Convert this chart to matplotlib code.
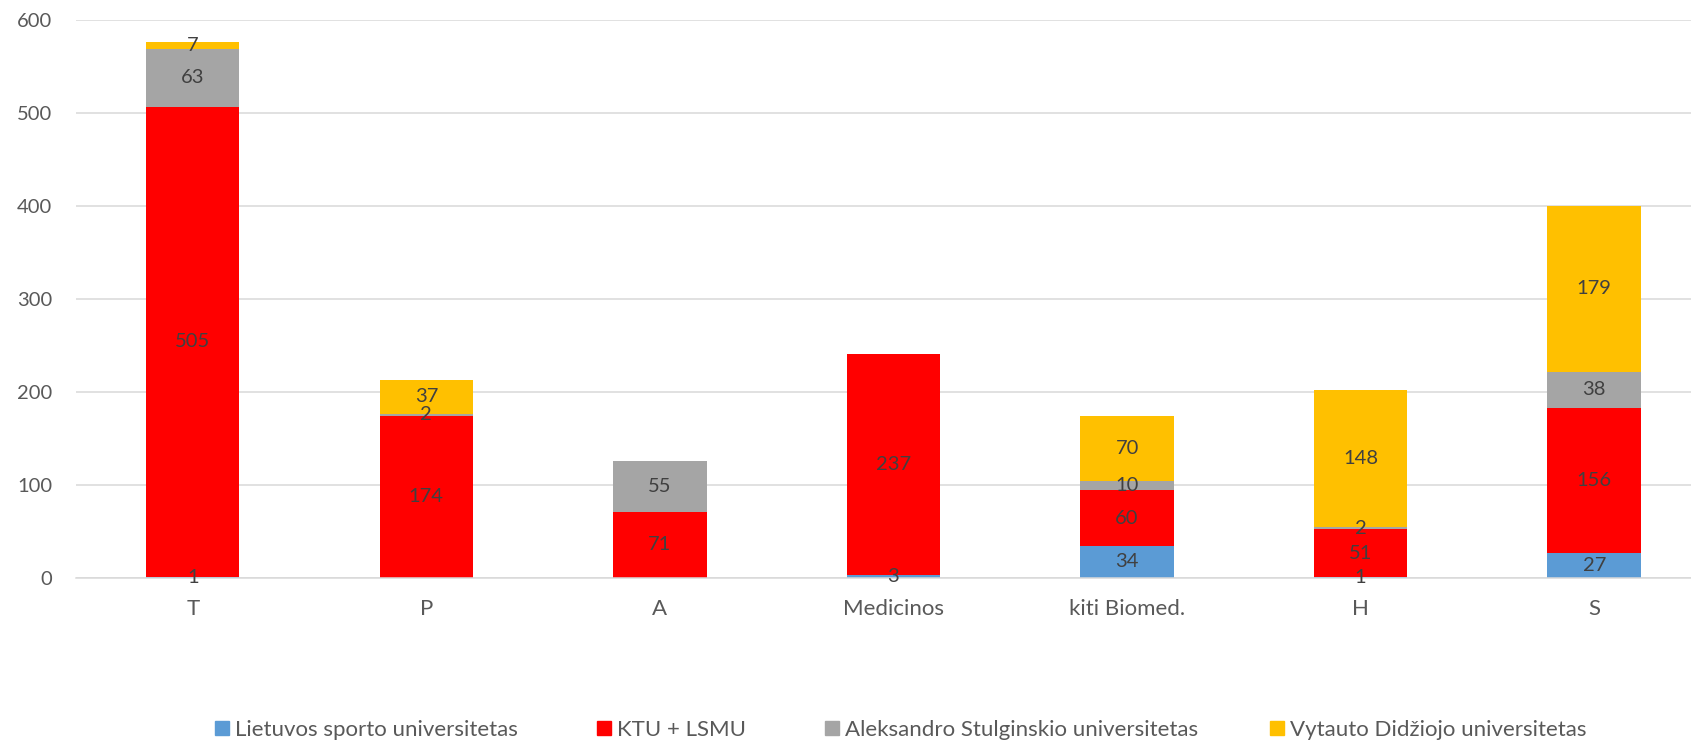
import numpy as np
import matplotlib.pyplot as plt
from matplotlib.patches import Patch

plt.rcParams['font.family'] = ['Lato', 'DejaVu Sans']

categories = ['T', 'P', 'A', 'Medicinos', 'kiti Biomed.', 'H', 'S']
series_names = ['Lietuvos sporto universitetas', 'KTU + LSMU',
                'Aleksandro Stulginskio universitetas', 'Vytauto Didžiojo universitetas']
lsu = [1, 0, 0, 3, 34, 1, 27]
ktu_lsmu = [505, 174, 71, 237, 60, 51, 156]
asu = [63, 2, 55, 0, 10, 2, 38]
vdu = [7, 37, 0, 0, 70, 148, 179]
colors = ['#5B9BD5', '#FF0000', '#A5A5A5', '#FFC000']

fig = plt.figure(figsize=(16.91, 7.44), dpi=100)
# the plot area runs a little past the right edge, as in the original
ax = fig.add_axes([76 / 1691, 166.3 / 744, 1635 / 1691, 558 / 744])

x = np.arange(len(categories))
bottom = np.zeros(len(categories))
for vals, c in zip([lsu, ktu_lsmu, asu, vdu], colors):
    vals = np.array(vals, dtype=float)
    ax.bar(x, vals, 0.40, bottom=bottom, color=c, zorder=2)
    for xi, b, v in zip(x, bottom, vals):
        if v > 0:
            ax.text(xi, b + v / 2, f'{int(v)}', ha='center', va='center',
                    fontsize=14.5, color='#404040', zorder=3)
    bottom += vals

ax.set_xlim(-0.5, len(categories) - 0.5)
ax.set_ylim(0, 600)
ax.set_yticks(range(0, 601, 100))
ax.set_xticks(x)
ax.set_xticklabels(categories, fontsize=16)
ax.yaxis.grid(True, color='#D9D9D9', linewidth=1.1, zorder=0)
ax.set_axisbelow(True)
for s in ['top', 'right', 'left']:
    ax.spines[s].set_visible(False)
ax.spines['bottom'].set_color('#D9D9D9')
ax.spines['bottom'].set_linewidth(1.1)
ax.tick_params(axis='both', length=0, colors='#595959')
ax.tick_params(axis='y', pad=17, labelsize=14.5)
ax.tick_params(axis='x', pad=15)

# legend entries placed one by one like the original
leg_x = [215, 597, 825, 1270]
for name, c, lx in zip(series_names, colors, leg_x):
    fig.legend([Patch(color=c)], [name], loc='center left',
               bbox_to_anchor=(lx / 1691, 1 - 730 / 744), frameon=False,
               fontsize=16, handlelength=0.63, handleheight=0.63,
               handletextpad=0.27, borderaxespad=0, borderpad=0,
               labelcolor='#595959')

fig.savefig('out.png', dpi=100)
